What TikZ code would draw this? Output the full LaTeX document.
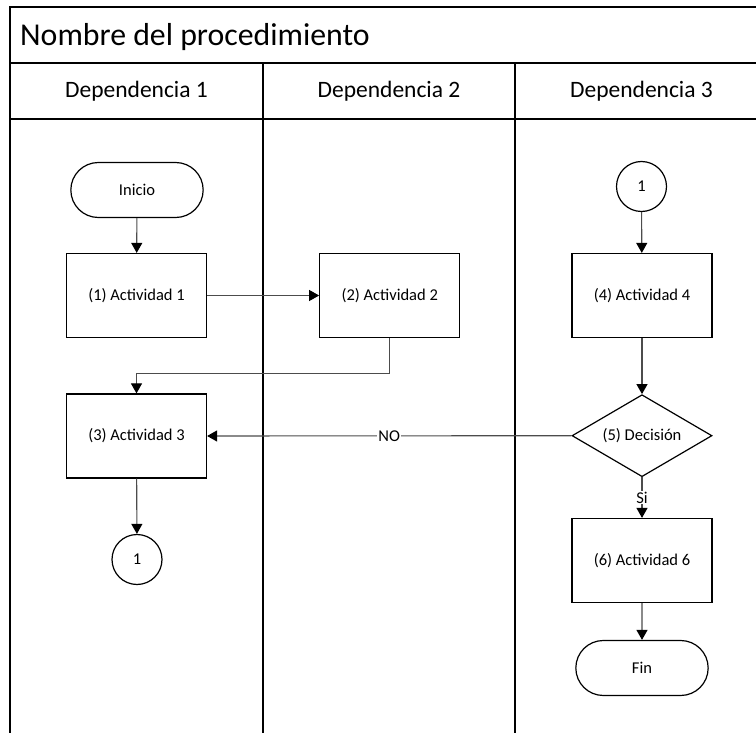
\documentclass[tikz,border=0pt]{standalone}
\usepackage{fontspec}
\setmainfont{Carlito}
\usetikzlibrary{arrows.meta, positioning, shapes.geometric, shapes.misc}

\begin{document}
\begin{tikzpicture}[x=1pt, y=-1pt,
        lane_line/.style={line width=1.8pt},
        body_font/.style={font=\fontsize{16.5}{19}\selectfont},
        actividad/.style={draw, rectangle, line width=1.2pt, minimum width=140pt, minimum height=84pt, body_font},
        terminal/.style={draw, rounded rectangle, line width=1.2pt, minimum width=139pt, minimum height=55pt, body_font},
        conector/.style={draw, circle, line width=1.2pt, minimum size=50pt, inner sep=0pt, body_font},
        decision/.style={draw, diamond, aspect=1.7, line width=1.2pt, minimum width=140pt, minimum height=82pt, inner sep=0pt, body_font},
        flecha/.style={draw=black!70, line width=1.1pt, -{Triangle[length=10pt, width=11pt, color=black]}},
        lane_title/.style={anchor=base, inner sep=0pt, font=\fontsize{23.5}{28}\selectfont}]

        % Picture is a crop of a wider chart
        \useasboundingbox (0,0) rectangle (756,733);
        \clip (0,0) rectangle (756,733);

        % Swimlane frame
        \draw[lane_line] (10,790) -- (10,7) -- (790,7);
        \draw[lane_line] (10,63) -- (790,63);
        \draw[lane_line] (10,119) -- (790,119);
        \draw[lane_line] (263,63) -- (263,790);
        \draw[lane_line] (515,63) -- (515,790);

        % Title and lane names
        \node[anchor=base west, inner sep=0pt, font=\fontsize{31.8}{36}\selectfont] (titulo) at (20,45.5) {Nombre del procedimiento};
        \node[lane_title] (dep1) at (136.5,98) {Dependencia 1};
        \node[lane_title] (dep2) at (389,98) {Dependencia 2};
        \node[lane_title] (dep3) at (641.5,98) {Dependencia 3};

        % Dependencia 1
        \node[terminal] (inicio) at (137,190) {Inicio};
        \node[actividad] (act1) at (136.5,295.5) {(1) Actividad 1};
        \node[actividad] (act3) at (136.5,436) {(3) Actividad 3};
        \node[conector] (conA) at (137,559.5) {1};

        % Dependencia 2
        \node[actividad, right=112pt of act1] (act2) {(2) Actividad 2};

        % Dependencia 3
        \node[conector] (conB) at (641.5,186.5) {1};
        \node[actividad] (act4) at (642,295.5) {(4) Actividad 4};
        \node[decision] (decision) at (642,435.7) {(5) Decisión};
        \node[actividad] (act6) at (642,560.5) {(6) Actividad 6};
        \node[terminal] (fin) at (642,668) {Fin};

        % Connectors
        \draw[flecha] (inicio) -- (act1);
        \draw[flecha] (act1) -- (act2);
        \draw[flecha] (act2.south) -- ++(0,35) -| (act3.north);
        \draw[flecha] (act3) -- (conA);
        \draw[flecha] (conB) -- (act4);
        \draw[flecha] (act4) -- (decision);
        \draw[flecha] (decision.west) -- node[fill=white, inner sep=1pt, body_font] {NO} (act3.east);
        \draw[flecha] (decision.south) -- node[fill=white, inner sep=1pt, body_font] {Si} (act6.north);
        \draw[flecha] (act6) -- (fin);
    \end{tikzpicture}
\end{document}
